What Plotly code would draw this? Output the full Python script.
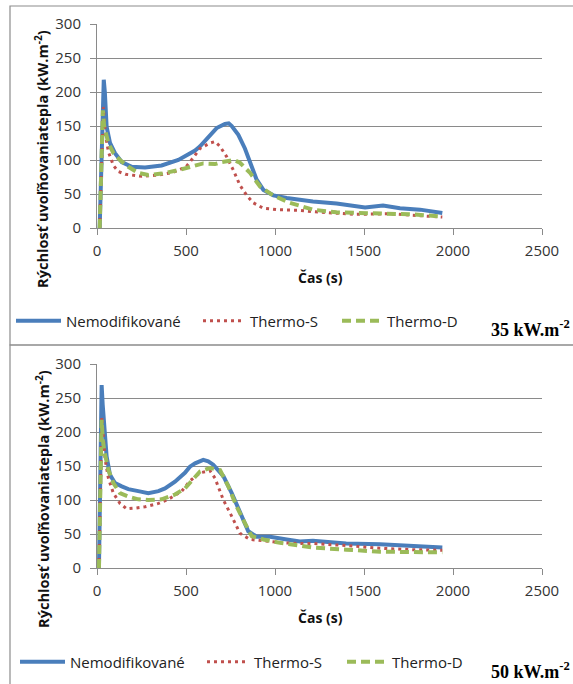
import plotly.graph_objects as go

# ---------------- data (35 kW.m-2) ----------------
t_n35 = [15, 25, 32, 38, 44, 54, 73, 101, 139, 195, 270, 363, 457, 513, 551, 579, 635, 672, 719, 740, 757, 794, 831, 869, 897, 935, 991, 1066, 1140, 1213, 1346, 1506, 1607, 1702, 1815, 1940]
v_n35 = [0, 90, 190, 218, 200, 149, 125, 110, 97, 90, 89, 92, 100, 108, 114, 120, 137, 147, 153, 154, 150, 137, 117, 90, 71, 56, 48, 44, 41, 39, 36, 30, 33, 29, 27, 22]

t_s35 = [15, 24, 30, 36, 46, 64, 92, 120, 160, 251, 350, 430, 500, 522, 579, 635, 663, 691, 728, 766, 803, 841, 878, 935, 1010, 1084, 1140, 1213, 1450, 1640, 1770, 1940]
v_s35 = [0, 90, 160, 178, 140, 112, 92, 83, 79, 76, 78, 82, 90, 97, 117, 125, 127, 120, 105, 85, 63, 48, 37, 29, 27, 27, 26, 24, 20, 21, 19, 16]

t_d35 = [15, 25, 33, 40, 50, 64, 92, 129, 176, 232, 288, 363, 457, 551, 597, 663, 700, 747, 770, 803, 860, 916, 989, 1084, 1213, 1346, 1490, 1640, 1770, 1940]
v_d35 = [0, 110, 173, 150, 140, 125, 110, 100, 90, 81, 78, 80, 85, 91, 95, 94, 97, 99, 100, 96, 81, 61, 48, 37, 27, 23, 22, 21, 20, 17]

# ---------------- data (50 kW.m-2) ----------------
t_n50 = [11, 18, 23, 26, 32, 41, 54, 73, 101, 139, 176, 232, 288, 345, 382, 438, 494, 522, 551, 597, 625, 653, 710, 757, 803, 850, 897, 972, 1066, 1140, 1213, 1400, 1590, 1770, 1940]
v_n50 = [0, 120, 230, 269, 240, 208, 164, 137, 125, 120, 116, 113, 110, 113, 117, 127, 140, 149, 154, 159, 157, 152, 135, 110, 81, 54, 46, 46, 42, 39, 40, 36, 35, 32, 30]

t_s50 = [11, 17, 22, 27, 35, 46, 64, 92, 129, 167, 213, 270, 345, 401, 476, 522, 579, 635, 663, 710, 757, 803, 860, 953, 1047, 1140, 1213, 1400, 1590, 1770, 1940]
v_s50 = [0, 110, 200, 222, 195, 159, 132, 110, 95, 87, 88, 90, 95, 101, 113, 128, 140, 143, 132, 100, 76, 51, 42, 39, 37, 36, 36, 33, 29, 27, 26]

t_d50 = [11, 17, 22, 26, 32, 41, 64, 92, 129, 176, 232, 288, 363, 438, 494, 522, 551, 579, 635, 691, 738, 785, 831, 869, 935, 1028, 1140, 1213, 1400, 1590, 1770, 1940]
v_d50 = [0, 100, 190, 218, 190, 172, 144, 125, 110, 105, 101, 100, 101, 108, 117, 125, 132, 142, 147, 144, 120, 90, 66, 47, 42, 37, 33, 30, 27, 24, 23.5, 23]

series_names = ["Nemodifikované", "Thermo-S", "Thermo-D"]
x_ticks = [0, 500, 1000, 1500, 2000, 2500]
y_ticks = [0, 50, 100, 150, 200, 250, 300]
panel_labels = ["35 kW.m<sup>-2</sup>", "50 kW.m<sup>-2</sup>"]
y_title = "Rýchlosť uvoľňovaniatepla (kW.m<sup>-2</sup>)"
x_title = "Čas (s)"

W, H = 573, 684
BLUE, RED, GREEN = "#4A7EBB", "#C0504D", "#9BBB59"
GRID = "#8A8A8A"
FONT = "Open Sans"

def px(x):
    return x / W

def py(y):
    return 1 - y / H

styles = [dict(color=BLUE, width=4, dash="solid"),
          dict(color=RED, width=3, dash="3px,4px"),
          dict(color=GREEN, width=4, dash="9px,5px")]

# one legend per entry so that each entry sits where the reference puts it
legend_ids = [["legend", "legend3", "legend4"], ["legend2", "legend5", "legend6"]]
legend_x = [[11, 198, 337], [15, 202, 342]]        # px, left edge of each entry
legend_y = [321, 662]
sample_len = [45, 42, 40]

fig = go.Figure()
panels = [
    ((t_n35, v_n35), (t_s35, v_s35), (t_d35, v_d35)),
    ((t_n50, v_n50), (t_s50, v_s50), (t_d50, v_d50)),
]
for p, data in enumerate(panels):
    xa = "x" if p == 0 else "x2"
    ya = "y" if p == 0 else "y2"
    for k, ((t, v), name, st) in enumerate(zip(data, series_names, styles)):
        fig.add_trace(go.Scatter(x=t, y=v, mode="lines", name=name, line=st,
                                 xaxis=xa, yaxis=ya, legend=legend_ids[p][k], hoverinfo="skip"))

axis_common = dict(showline=True, linecolor=GRID, linewidth=1, ticks="outside",
                   ticklen=6, tickcolor=GRID, zeroline=False,
                   tickfont=dict(family=FONT, size=15, color="#333333"))

plot_boxes = [(24, 228), (364, 568)]
for p, (top, bot) in enumerate(plot_boxes):
    sfx = "" if p == 0 else "2"
    fig.update_layout(**{
        "xaxis" + sfx: dict(domain=[px(97), px(542)], range=[0, 2500], tickvals=x_ticks,
                            showgrid=False, anchor="y" + sfx, ticklabelstandoff=3, **axis_common),
        "yaxis" + sfx: dict(domain=[py(bot), py(top)], range=[0, 300], tickvals=y_ticks,
                            showgrid=True, gridcolor=GRID, gridwidth=1, anchor="x" + sfx,
                            ticklabelstandoff=6, **axis_common),
    })

annotations = []
shapes = []
panel_tops = [6, 345]
label_y = [328, 670]
for p, (top, bot) in enumerate(plot_boxes):
    off = 0 if p == 0 else 340
    annotations.append(dict(text="<b>" + y_title + "</b>", textangle=-90,
                            x=px(42), y=py(159 + off), xref="paper", yref="paper",
                            xanchor="center", yanchor="middle",
                            showarrow=False, font=dict(family=FONT, size=14.6, color="#111111")))
    annotations.append(dict(text="<b>" + x_title + "</b>", x=px(320), y=py(277 + off),
                            xanchor="center", yanchor="middle", xref="paper", yref="paper",
                            showarrow=False, font=dict(family=FONT, size=14, color="#111111")))
    annotations.append(dict(text="<b>" + panel_labels[p] + "</b>", x=px(572), y=py(label_y[p]),
                            xanchor="right", yanchor="middle", xref="paper", yref="paper", showarrow=False,
                            font=dict(family="Liberation Serif", size=18, color="#000000")))
    shapes.append(dict(type="rect", xref="paper", yref="paper",
                       x0=px(10), x1=px(576), y0=py(panel_tops[p]),
                       y1=py(panel_tops[p] + 339) if p == 0 else py(690),
                       line=dict(color="#8C8C8C", width=1.2)))

legends = {}
for p in range(2):
    for k in range(3):
        legends[legend_ids[p][k]] = dict(
            orientation="h", xanchor="left", yanchor="middle", itemwidth=sample_len[k],
            x=px(legend_x[p][k]), y=py(legend_y[p]),
            font=dict(family=FONT, size=15, color="#222222"), bgcolor="rgba(0,0,0,0)")

fig.update_layout(
    width=W, height=H, margin=dict(l=0, r=0, t=0, b=0, autoexpand=False),
    paper_bgcolor="white", plot_bgcolor="white",
    annotations=annotations, shapes=shapes,
    showlegend=True, **legends,
)

fig.write_html("out.html", config={"displayModeBar": False},
               post_script="document.body.style.margin='0';document.body.style.overflow='hidden';")
